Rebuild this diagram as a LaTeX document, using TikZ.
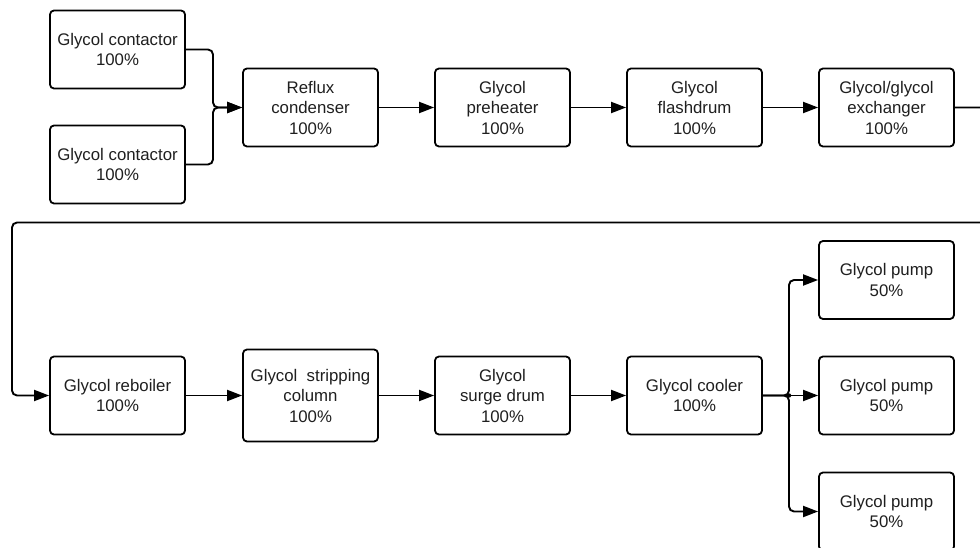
\documentclass[tikz,border=0pt]{standalone}
\usepackage{fontspec}
\setmainfont{Liberation Sans}
\usetikzlibrary{arrows.meta}
\begin{document}
\begin{tikzpicture}[x=1pt,y=-1pt,
  unit/.style={draw=black, line width=1.8pt, rounded corners=4pt, fill=white,
    minimum width=135pt, minimum height=78pt, inner sep=0pt, align=center,
    text=black!88, font=\fontsize{16.8}{20.5}\selectfont},
  tall/.style={minimum height=92pt},
  flow/.style={draw=black, line width=1.9pt, rounded corners=5pt,
    -{Triangle[length=15pt,width=11pt]}},
  line/.style={draw=black, line width=1.9pt, rounded corners=5pt}]
\useasboundingbox (0,0) rectangle (980,548);

% first train: contactors through the exchanger
\node[unit] (c1) at (117.5,49.5) {Glycol contactor\\100\%};
\node[unit] (c2) at (117.5,164.5) {Glycol contactor\\100\%};
\node[unit] (reflux) at (310.5,107.5) {Reflux\\condenser\\100\%};
\node[unit] (preheat) at (502.5,107.5) {Glycol\\preheater\\100\%};
\node[unit] (flash) at (694.5,107.5) {Glycol\\flashdrum\\100\%};
\node[unit] (exch) at (886.5,107.5) {Glycol/glycol\\exchanger\\100\%};

% second train: reboiler through the cooler
\node[unit] (reb) at (117.5,395.5) {Glycol reboiler\\100\%};
\node[unit,tall] (strip) at (310.5,395.5) {Glycol\ \ stripping\\column\\100\%};
\node[unit] (surge) at (502.5,395.5) {Glycol\\surge drum\\100\%};
\node[unit] (cooler) at (694.5,395.5) {Glycol cooler\\100\%};

% parallel pumps
\node[unit] (p1) at (886.5,280) {Glycol pump\\50\%};
\node[unit] (p2) at (886.5,395.5) {Glycol pump\\50\%};
\node[unit] (p3) at (886.5,511.5) {Glycol pump\\50\%};

% junctions and the return loop
\coordinate (j1) at (213,107.5);
\coordinate (loopR) at (995,222.5);
\coordinate (loopL) at (12,222.5);
\coordinate (j2) at (789,395.5);

\draw[flow] (c1.east) -| (j1) -- (reflux.west);
\draw[flow] (c2.east) -| (j1) -- (reflux.west);
\draw[flow] (reflux) -- (preheat);
\draw[flow] (preheat) -- (flash);
\draw[flow] (flash) -- (exch);
\draw[flow] (exch.east) -| (loopR) -- (loopL) |- (reb.west);

\draw[flow] (reb) -- (strip);
\draw[flow] (strip) -- (surge);
\draw[flow] (surge) -- (cooler);
\draw[flow] (cooler.east) -- (j2) |- (p1.west);
\draw[flow] (cooler.east) -- (p2.west);
\draw[flow] (cooler.east) -- (j2) |- (p3.west);
\fill[black] (j2) circle (2.2pt);
\end{tikzpicture}
\end{document}
